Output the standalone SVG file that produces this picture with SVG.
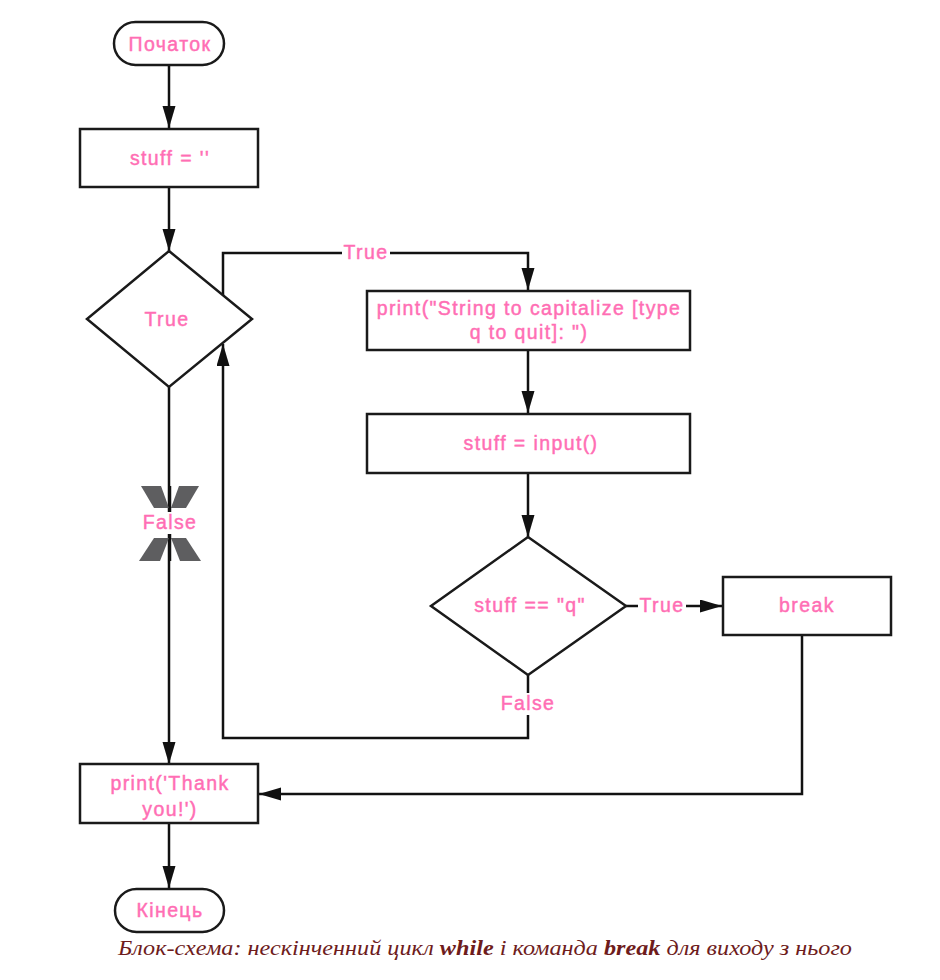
<svg xmlns="http://www.w3.org/2000/svg" width="940" height="980" viewBox="0 0 940 980">
<defs>
<style>
.shape{fill:#fff;stroke:#1a1a1a;stroke-width:2.5}
.edge{fill:none;stroke:#111;stroke-width:2.5}
.t{font-family:"Liberation Sans",Arial,sans-serif;font-size:19.5px;fill:#ff6eb4;stroke:#ff6eb4;stroke-width:0.45;text-anchor:middle;letter-spacing:1.4px}
.lblbg{fill:#fff}
.xg{fill:#5e5e60}
.cap{font-family:"Liberation Serif","Times New Roman",serif;font-style:italic;font-size:21px;fill:#6e1c1c}
</style>
<marker id="arr" markerUnits="userSpaceOnUse" markerWidth="24" markerHeight="14" refX="22" refY="6.5" orient="auto">
<path d="M0,0 L22,6.5 L0,13 z" fill="#111"/>
</marker>
</defs>
<rect width="940" height="980" fill="#fff"/>

<g id="connectors">
<path class="edge" d="M169,65 V128" marker-end="url(#arr)"/>
<path class="edge" d="M169,187 V251" marker-end="url(#arr)"/>
<path class="edge" d="M169,387 V764" marker-end="url(#arr)"/>
<path class="edge" d="M223,295 V253 H528 V290" marker-end="url(#arr)"/>
<path class="edge" d="M528,350 V413" marker-end="url(#arr)"/>
<path class="edge" d="M528,473 V537" marker-end="url(#arr)"/>
<path class="edge" d="M626,606 H722" marker-end="url(#arr)"/>
<path class="edge" d="M528,675 V738 H223 V344" marker-end="url(#arr)"/>
<path class="edge" d="M802,635 V794 H259" marker-end="url(#arr)"/>
<path class="edge" d="M169,823 V888" marker-end="url(#arr)"/>
<g id="false-mark">
<polygon class="xg" points="141,486 161,486 169,508 154,508"/>
<polygon class="xg" points="199,486 179,486 171,508 186,508"/>
<polygon class="xg" points="154,538 169,538 160,561 139,561"/>
<polygon class="xg" points="186,538 171,538 180,561 201,561"/>
<line class="edge" x1="170" y1="486" x2="170" y2="561"/>
</g>
<rect class="lblbg" x="342" y="243" width="48" height="20"/>
<text class="t" x="366" y="258.5">True</text>
<rect class="lblbg" x="141" y="512" width="58" height="22"/>
<text class="t" x="170" y="529">False</text>
<rect class="lblbg" x="638" y="596" width="48" height="20"/>
<text class="t" x="662" y="612">True</text>
<rect class="lblbg" x="499" y="693" width="58" height="22"/>
<text class="t" x="528" y="710">False</text>
</g>

<g id="start">
<rect class="shape" x="114" y="22" width="110" height="43" rx="21.5"/>
<text class="t" x="170" y="50.5">Початок</text>
</g>
<g id="init">
<rect class="shape" x="80" y="129" width="178" height="58"/>
<text class="t" x="170" y="165">stuff = ''</text>
</g>
<g id="loop-cond">
<polygon class="shape" points="169,251 252,319 169,387 87,319"/>
<text class="t" x="167" y="326">True</text>
</g>
<g id="prompt">
<rect class="shape" x="367" y="291" width="323" height="59"/>
<text class="t" x="529" y="315">print("String to capitalize [type</text>
<text class="t" x="529" y="339">q to quit]: ")</text>
</g>
<g id="read">
<rect class="shape" x="367" y="414" width="323" height="59"/>
<text class="t" x="531" y="450">stuff = input()</text>
</g>
<g id="quit-cond">
<polygon class="shape" points="528,537 626,606 528,675 431,606"/>
<text class="t" x="530" y="612">stuff == "q"</text>
</g>
<g id="break">
<rect class="shape" x="723" y="577" width="168" height="58"/>
<text class="t" x="807" y="612">break</text>
</g>
<g id="thanks">
<rect class="shape" x="80" y="764" width="178" height="59"/>
<text class="t" x="170" y="790">print('Thank</text>
<text class="t" x="170" y="816">you!')</text>
</g>
<g id="end">
<rect class="shape" x="115" y="889" width="109" height="43" rx="21.5"/>
<text class="t" x="170" y="917">Кінець</text>
</g>

<text class="cap" x="118" y="955" textLength="734" lengthAdjust="spacingAndGlyphs">Блок-схема: нескінченний цикл <tspan font-weight="bold">while</tspan> і команда <tspan font-weight="bold">break</tspan> для виходу з нього</text>
</svg>
